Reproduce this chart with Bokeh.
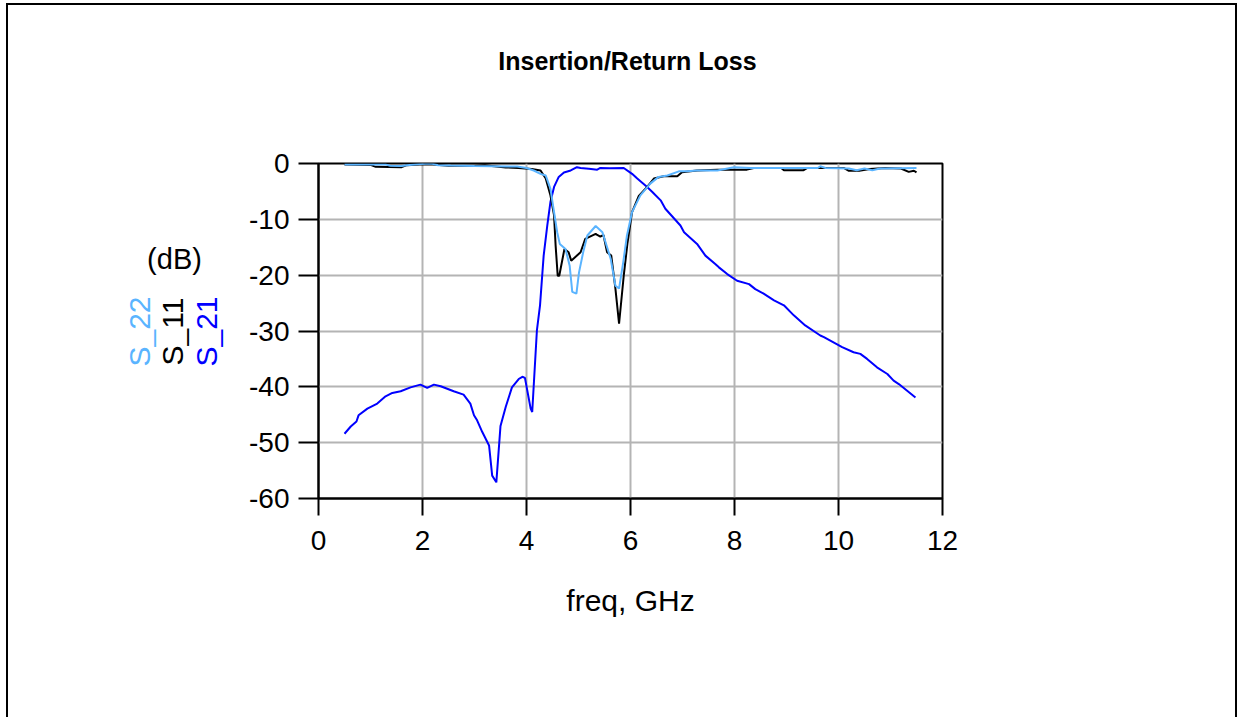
import math
from bokeh.plotting import figure
from bokeh.models import Range1d, FixedTicker, Label
from bokeh.embed import file_html
from bokeh.resources import INLINE

# ---------------- data ----------------
s21_freq = [0.50, 0.62, 0.73, 0.77, 0.94, 1.13, 1.29, 1.42, 1.58, 1.77, 1.96, 2.09,
            2.22, 2.35, 2.60, 2.79, 2.92, 2.99, 3.05, 3.15, 3.28, 3.34, 3.42, 3.50,
            3.60, 3.72, 3.85, 3.92, 3.97, 4.08, 4.11, 4.20, 4.26, 4.33, 4.40, 4.46,
            4.53, 4.62, 4.72, 4.85, 4.97, 5.04, 5.20, 5.36, 5.42, 5.60, 5.87, 6.03,
            6.13, 6.32, 6.42, 6.58, 6.67, 6.96, 7.03, 7.28, 7.44, 7.63, 7.70, 7.86,
            8.05, 8.28, 8.40, 8.56, 8.76, 8.95, 9.14, 9.36, 9.65, 9.72, 10.07, 10.29,
            10.42, 10.55, 10.74, 10.94, 11.06, 11.16, 11.32, 11.48]
s21_db = [-48.4, -47.1, -46.2, -45.1, -43.9, -43.0, -41.7, -41.1, -40.8, -40.1, -39.6, -40.2,
          -39.6, -39.9, -40.8, -41.4, -43.0, -45.1, -46.0, -48.1, -50.5, -55.9, -57.1, -47.0,
          -43.6, -40.1, -38.6, -38.2, -38.4, -43.9, -44.5, -29.9, -25.4, -16.5, -11.1, -6.9,
          -4.2, -2.4, -1.6, -1.25, -0.66, -0.8, -0.95, -1.1, -0.8, -0.85, -0.8, -1.85,
          -2.7, -4.2, -5.1, -6.6, -8.1, -11.1, -12.3, -14.4, -16.5, -18.0, -18.6, -19.8,
          -21.0, -21.6, -22.5, -23.3, -24.5, -25.4, -27.2, -29.0, -30.8, -31.1, -32.9, -33.8,
          -34.1, -35.0, -36.5, -37.7, -38.9, -39.5, -40.7, -41.9]

s11_freq = [0.50, 1.00, 1.10, 1.60, 1.70, 1.95, 2.20, 2.50, 3.00, 3.20, 3.60, 3.85,
            4.10, 4.27, 4.37, 4.46, 4.53, 4.56, 4.60, 4.63, 4.73, 4.81, 4.86, 5.04,
            5.13, 5.20, 5.33, 5.36, 5.42, 5.48, 5.55, 5.63, 5.71, 5.78, 5.87, 5.94,
            6.03, 6.16, 6.32, 6.45, 6.64, 6.90, 6.99, 7.28, 7.67, 8.24, 8.37, 8.90,
            8.95, 9.33, 9.40, 10.10, 10.20, 10.40, 10.60, 10.90, 11.20, 11.35, 11.45, 11.50]
s11_db = [-0.2, -0.25, -0.6, -0.65, -0.3, -0.2, -0.2, -0.4, -0.4, -0.3, -0.7, -0.8,
          -1.0, -1.25, -2.7, -5.7, -9.3, -14.7, -20.1, -20.1, -15.3, -15.9, -17.4, -15.9,
          -13.5, -13.2, -12.6, -12.8, -13.1, -12.8, -15.9, -16.5, -22.4, -28.7, -20.1, -14.4,
          -8.7, -5.8, -4.2, -2.7, -2.3, -2.3, -1.55, -1.25, -1.1, -1.1, -0.8, -0.8,
          -1.2, -1.2, -0.8, -0.8, -1.3, -1.3, -1.0, -0.8, -0.9, -1.5, -1.3, -1.6]

s22_freq = [0.50, 1.30, 1.38, 1.60, 1.70, 1.96, 2.17, 2.30, 2.54, 3.00, 3.82, 4.00,
            4.14, 4.27, 4.37, 4.46, 4.53, 4.59, 4.64, 4.75, 4.83, 4.88, 4.96, 5.01,
            5.09, 5.17, 5.33, 5.46, 5.62, 5.71, 5.78, 5.86, 5.93, 6.03, 6.19, 6.38,
            6.54, 6.71, 6.93, 7.09, 7.28, 7.67, 7.99, 8.31, 9.60, 9.65, 9.75, 10.20,
            10.35, 10.50, 10.65, 10.80, 11.50]
s22_db = [-0.2, -0.2, -0.4, -0.45, -0.3, -0.1, 0.0, -0.3, -0.36, -0.45, -0.54, -0.8,
          -1.25, -1.85, -2.15, -4.5, -8.7, -12.3, -14.4, -15.3, -18.3, -23.0, -23.3, -19.5,
          -15.9, -12.9, -11.2, -12.3, -17.1, -21.9, -22.4, -17.7, -13.0, -8.7, -5.7, -3.6,
          -2.4, -2.15, -1.4, -1.4, -1.25, -1.25, -0.66, -0.8, -0.8, -0.5, -0.8, -0.9,
          -1.2, -0.9, -1.2, -0.9, -0.8]

x_ticks = [0, 2, 4, 6, 8, 10, 12]
y_ticks = [-60, -50, -40, -30, -20, -10, 0]

title_text = "Insertion/Return Loss"
x_label = "freq, GHz"
unit_label = "(dB)"
series_names = ["S_22", "S_11", "S_21"]
series_colors = ["#5AB4FF", "#000000", "#0000FF"]

FONT = "Liberation Sans"

# ---------------- figure ----------------
p = figure(
    frame_width=624, frame_height=335,
    min_border_left=318, min_border_right=295,
    min_border_top=163, min_border_bottom=219,
    x_range=Range1d(0, 12), y_range=Range1d(-60, 0),
    output_backend="svg", toolbar_location=None,
    background_fill_color="white", border_fill_color=None,
)
p.styles = {"box-shadow": ("inset 6px 0 0 0 #fff, inset 0 3px 0 0 #fff, "
                           "inset 8px 0 0 0 #000, inset 0 5px 0 0 #000, "
                           "inset -2px 0 0 0 #000")}

p.outline_line_color = "black"
p.outline_line_width = 2
p.outline_line_alpha = 1.0

for ax in (p.xaxis[0], p.yaxis[0]):
    ax.axis_line_width = 2
    ax.axis_line_color = "black"
    ax.major_tick_line_width = 2
    ax.major_tick_line_color = "black"
    ax.major_tick_in = 0
    ax.minor_tick_line_color = None
    ax.major_label_text_font = FONT
    ax.major_label_text_font_size = "28px"
    ax.major_label_text_color = "black"

p.xaxis[0].ticker = FixedTicker(ticks=x_ticks)
p.yaxis[0].ticker = FixedTicker(ticks=y_ticks)
p.xaxis[0].major_label_overrides = {t: str(t) for t in x_ticks}
p.yaxis[0].major_label_overrides = {t: str(t) for t in y_ticks}
p.xaxis[0].major_tick_out = 17
p.yaxis[0].major_tick_out = 20
p.xaxis[0].major_label_standoff = 15
p.yaxis[0].major_label_standoff = 9

p.xaxis[0].axis_label = x_label
p.xaxis[0].axis_label_text_font = FONT
p.xaxis[0].axis_label_text_font_size = "30px"
p.xaxis[0].axis_label_text_font_style = "normal"
p.xaxis[0].axis_label_text_color = "black"
p.xaxis[0].axis_label_standoff = 31

p.xgrid[0].ticker = FixedTicker(ticks=x_ticks)
p.ygrid[0].ticker = FixedTicker(ticks=y_ticks)
for g in (p.xgrid[0], p.ygrid[0]):
    g.grid_line_color = "#B4B4B4"
    g.grid_line_width = 2

# ---------------- curves ----------------
p.line(s21_freq, s21_db, line_color=series_colors[2], line_width=2)
p.line(s11_freq, s11_db, line_color=series_colors[1], line_width=2)
p.line(s22_freq, s22_db, line_color=series_colors[0], line_width=2)

# ---------------- texts ----------------
p.add_layout(Label(x=627, y=60, x_units="canvas", y_units="canvas", text=title_text,
                   text_font=FONT, text_font_size="25px", text_font_style="bold",
                   text_align="center", text_baseline="middle", text_color="black"),
             "above")
p.add_layout(Label(x=174, y=258, x_units="canvas", y_units="canvas", text=unit_label,
                   text_font=FONT, text_font_size="29px",
                   text_align="center", text_baseline="middle", text_color="black"),
             "left")
for xs, name, col in zip([139, 172, 206], series_names, series_colors):
    p.add_layout(Label(x=xs, y=331, x_units="canvas", y_units="canvas", text=name,
                       angle=math.pi / 2, text_font=FONT, text_font_size="30px",
                       text_align="center", text_baseline="middle", text_color=col),
                 "left")

open("out.html", "w").write(file_html(p, INLINE))
